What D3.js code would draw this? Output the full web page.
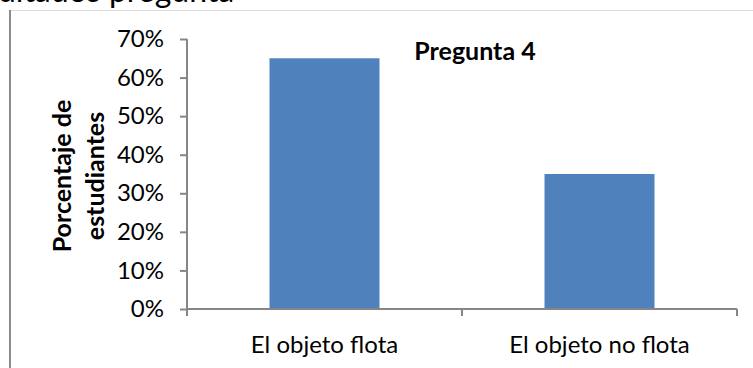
<!DOCTYPE html>
<html>
<head>
<meta charset="utf-8">
<script src="https://cdn.jsdelivr.net/npm/d3@7"></script>
<style>
  body { margin: 0; background: #fff; }
  svg { display: block; font-family: Lato, "Open Sans", sans-serif; }
</style>
</head>
<body>
<svg width="753" height="368"></svg>
<script>
const categories = ["El objeto flota", "El objeto no flota"];
const values = [0.65, 0.35];
const yTicks = [0, 0.1, 0.2, 0.3, 0.4, 0.5, 0.6, 0.7];
const title = "Pregunta 4";
const yTitle = ["Porcentaje de", "estudiantes"];
const headerText = "ultados pregunta";

const svg = d3.select("svg");

// leftover bits of the document around the chart (header is cut at the top edge)
svg.append("text")
  .attr("x", -2).attr("y", 2)
  .attr("font-size", 32)
  .attr("fill", "#000")
  .text(headerText);
svg.append("line")
  .attr("x1", 10).attr("x2", 753).attr("y1", 10.5).attr("y2", 10.5)
  .attr("stroke", "#dcdcdc").attr("stroke-width", 1);
svg.append("line")
  .attr("x1", 10).attr("x2", 10).attr("y1", 10).attr("y2", 368)
  .attr("stroke", "#8c8c8c").attr("stroke-width", 2);

const x = d3.scaleBand()
  .domain(categories)
  .range([187, 737])
  .paddingInner(0.6)
  .paddingOuter(0.3);

const y = d3.scaleLinear()
  .domain([0, 0.7])
  .range([309, 39]);

const axisColor = "#868686";

// bars
svg.selectAll(".bar")
  .data(values)
  .enter()
  .append("rect")
  .classed("bar", true)
  .attr("x", (d, i) => x(categories[i]))
  .attr("width", x.bandwidth())
  .attr("y", d => y(d))
  .attr("height", d => y(0) - y(d))
  .attr("fill", "#4f81bd");

// y axis
const yAxis = svg.append("g")
  .attr("transform", "translate(187,0)")
  .call(d3.axisLeft(y).tickValues(yTicks).tickFormat(d3.format(".0%"))
    .tickSize(7).tickSizeOuter(0).tickPadding(16));
yAxis.select(".domain").remove();
yAxis.append("line")
  .attr("x1", 0).attr("x2", 0).attr("y1", y(0.7)).attr("y2", y(0) + 7)
  .attr("stroke", axisColor).attr("stroke-width", 2);
yAxis.selectAll(".tick line").attr("stroke", axisColor).attr("stroke-width", 2);
yAxis.selectAll(".tick text")
  .attr("font-size", 24).attr("fill", "#000")
  .attr("font-family", "Lato, sans-serif");

// x axis
const xAxis = svg.append("g")
  .attr("transform", `translate(0,${y(0)})`)
  .call(d3.axisBottom(x).tickSize(0).tickPadding(27));
xAxis.select(".domain").remove();
xAxis.selectAll(".tick text")
  .attr("font-size", 24).attr("fill", "#000")
  .attr("font-family", "Lato, sans-serif");
const gap = (x.step() - x.bandwidth()) / 2;
const bounds = categories.map(c => x(c) - gap).concat([x(categories[categories.length - 1]) + x.bandwidth() + gap]);
xAxis.append("line")
  .attr("x1", bounds[0]).attr("x2", bounds[bounds.length - 1])
  .attr("y1", 0).attr("y2", 0)
  .attr("stroke", axisColor).attr("stroke-width", 2);
xAxis.selectAll(".bound")
  .data(bounds)
  .enter()
  .append("line")
  .classed("bound", true)
  .attr("x1", d => d).attr("x2", d => d)
  .attr("y1", 0).attr("y2", 7)
  .attr("stroke", axisColor).attr("stroke-width", 2);

// title
svg.append("text")
  .attr("x", 475).attr("y", 60)
  .attr("text-anchor", "middle")
  .attr("font-size", 25)
  .attr("font-weight", "bold")
  .attr("fill", "#000")
  .text(title);

// y axis title
const yt = svg.append("text")
  .attr("transform", "translate(71,176) rotate(-90)")
  .attr("text-anchor", "middle")
  .attr("font-size", 25)
  .attr("font-weight", "bold")
  .attr("fill", "#000");
yt.selectAll("tspan")
  .data(yTitle)
  .enter()
  .append("tspan")
  .attr("x", 0)
  .attr("dy", (d, i) => i === 0 ? 0 : 33)
  .text(d => d);
</script>
</body>
</html>
